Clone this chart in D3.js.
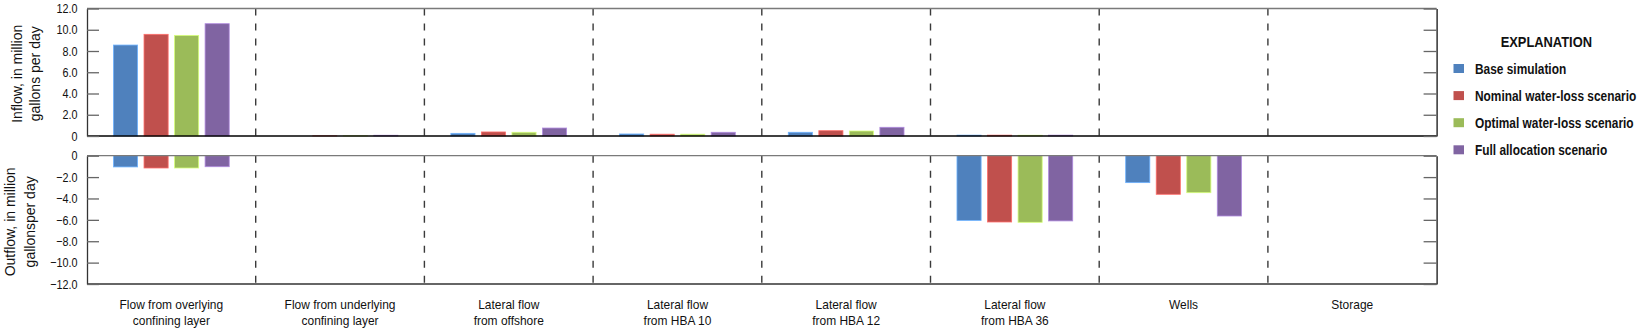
<!DOCTYPE html>
<html>
<head>
<meta charset="utf-8">
<script src="https://cdn.jsdelivr.net/npm/d3@7"></script>
<style>
  html, body { margin: 0; padding: 0; background: #fff; }
  svg { display: block; font-family: "Liberation Sans", Arial, "Helvetica", sans-serif; }
</style>
</head>
<body>
<svg id="chart" width="1640" height="329"></svg>
<script>
// Water-budget components (category labels, two lines each)
const categories = [
  ["Flow from overlying", "confining layer"],
  ["Flow from underlying", "confining layer"],
  ["Lateral flow", "from offshore"],
  ["Lateral flow", "from HBA 10"],
  ["Lateral flow", "from HBA 12"],
  ["Lateral flow", "from HBA 36"],
  ["Wells"],
  ["Storage"]
];

const seriesNames = [
  "Base simulation",
  "Nominal water-loss scenario",
  "Optimal water-loss scenario",
  "Full allocation scenario"
];
const seriesColors = ["#4F81BD", "#C0504D", "#9BBB59", "#8064A2"];

// Inflow, in million gallons per day
const inflowBase    = [8.56, 0.00, 0.25, 0.19, 0.35, 0.08, 0, 0];
const inflowNominal = [9.57, 0.02, 0.38, 0.17, 0.50, 0.08, 0, 0];
const inflowOptimal = [9.47, 0.02, 0.35, 0.17, 0.47, 0.07, 0, 0];
const inflowFull    = [10.57, 0.07, 0.75, 0.35, 0.82, 0.08, 0, 0];

// Outflow, in million gallons per day
const outflowBase    = [-1.05, 0, 0, 0, 0, -6.05, -2.52, 0];
const outflowNominal = [-1.15, 0, 0, 0, 0, -6.20, -3.61, 0];
const outflowOptimal = [-1.15, 0, 0, 0, 0, -6.23, -3.46, 0];
const outflowFull    = [-1.03, 0, 0, 0, 0, -6.10, -5.64, 0];

const inflowTicks  = [0, 2, 4, 6, 8, 10, 12];
const outflowTicks = [-12, -10, -8, -6, -4, -2, 0];

const inflowSeries  = [inflowBase, inflowNominal, inflowOptimal, inflowFull];
const outflowSeries = [outflowBase, outflowNominal, outflowOptimal, outflowFull];

// condensed lettering: Arial-metric face squeezed horizontally
const TICK_SX = 0.83, CAT_SX = 0.92, LEG_SX = 0.85, HEAD_SX = 0.86, TITLE_SX = 1.0;

const svg = d3.select("#chart");
const left = 87, right = 1436.6;
const topPanel = { y0: 8.5, y1: 136 };
const botPanel = { y0: 155.7, y1: 284 };

const x0 = d3.scaleBand().domain(d3.range(categories.length)).range([left, right]).paddingInner(0).paddingOuter(0);
const groupW = x0.bandwidth() * 0.686;
const x1 = d3.scaleBand().domain(d3.range(seriesNames.length)).range([0, groupW]).paddingInner(0.21).paddingOuter(0);
const groupOffset = (x0.bandwidth() - groupW) / 2;

const yIn  = d3.scaleLinear().domain([0, 12]).range([topPanel.y1, topPanel.y0]);
const yOut = d3.scaleLinear().domain([-12, 0]).range([botPanel.y1, botPanel.y0]);

const fmt = v => v === 0 ? "0" : (v < 0 ? "\u2212" + d3.format(".1f")(-v) : d3.format(".1f")(v));

function ntext(parent, x, y, str, size, sx, opts = {}) {
  const rot = opts.rotate ? ` rotate(${opts.rotate})` : "";
  return parent.append("text")
    .attr("transform", `translate(${x},${y})${rot} scale(${sx},1)`)
    .attr("text-anchor", opts.anchor || "start")
    .attr("font-size", size)
    .attr("font-weight", opts.bold ? "bold" : null)
    .attr("fill", "#111")
    .text(str);
}

function drawPanel(y, ticks, seriesData, panel, isTop) {
  const g = svg.append("g");

  // category dividers
  g.selectAll("line.div")
    .data(d3.range(1, categories.length))
    .join("line")
    .attr("x1", i => x0(i)).attr("x2", i => x0(i))
    .attr("y1", panel.y0).attr("y2", panel.y1)
    .attr("stroke", "#3a3a3a").attr("stroke-width", 1.4)
    .attr("stroke-dasharray", "7,8");

  // bars
  seriesData.forEach((vals, s) => {
    g.selectAll(null)
      .data(vals.map((v, i) => ({ v, i })).filter(d => d.v !== 0))
      .join("rect")
      .attr("x", d => x0(d.i) + groupOffset + x1(s))
      .attr("width", x1.bandwidth())
      .attr("y", d => Math.min(y(d.v), y(0)))
      .attr("height", d => Math.abs(y(d.v) - y(0)))
      .attr("fill", seriesColors[s])
      .attr("stroke", d3.color(seriesColors[s]).brighter(0.9))
      .attr("stroke-width", 0.8);
  });

  // frame
  g.append("line").attr("x1", left).attr("x2", right).attr("y1", panel.y0).attr("y2", panel.y0)
    .attr("stroke", "#7a7a7a").attr("stroke-width", 1.3);
  g.append("line").attr("x1", left).attr("x2", right).attr("y1", panel.y1).attr("y2", panel.y1)
    .attr("stroke", isTop ? "#000" : "#333").attr("stroke-width", 1.3);

  // left axis with inward ticks
  const la = g.append("g").attr("transform", `translate(${left},0)`)
    .call(d3.axisLeft(y).tickValues(ticks).tickFormat(fmt).tickSizeInner(-12).tickSizeOuter(0).tickPadding(9));
  la.attr("font-family", null).attr("font-size", null);
  la.select(".domain").attr("stroke", "#333").attr("stroke-width", 1.3);
  la.selectAll(".tick line").attr("stroke", "#666").attr("stroke-width", 1.3);
  la.selectAll(".tick text")
    .attr("font-size", 13).attr("fill", "#111")
    .attr("x", -9.5 / TICK_SX)
    .attr("transform", `scale(${TICK_SX},1)`);

  // right axis, ticks only
  const ra = g.append("g").attr("transform", `translate(${right},0)`)
    .call(d3.axisRight(y).tickValues(ticks).tickFormat("").tickSizeInner(-13).tickSizeOuter(0));
  ra.select(".domain").attr("stroke", "#111").attr("stroke-width", 1.3);
  ra.selectAll(".tick line").attr("stroke", "#666").attr("stroke-width", 1.3);
}

drawPanel(yIn, inflowTicks, inflowSeries, topPanel, true);
drawPanel(yOut, outflowTicks, outflowSeries, botPanel, false);

// y-axis titles
const titleIn = ["Inflow, in million", "gallons per day"];
const titleOut = ["Outflow, in million", "gallonsper day"];
const inMid = (topPanel.y0 + topPanel.y1) / 2 + 1.5;
const outMid = (botPanel.y0 + botPanel.y1) / 2 + 2;
[[titleIn, inMid, [21.5, 40]], [titleOut, outMid, [14.5, 35]]].forEach(([lines, mid, xs]) => {
  lines.forEach((t, k) => ntext(svg, xs[k], mid, t, 14, TITLE_SX, { anchor: "middle", rotate: -90 }));
});

// category labels
categories.forEach((lines, i) => {
  const cx = x0(i) + x0.bandwidth() / 2;
  lines.forEach((t, k) => ntext(svg, cx, 309 + k * 15.5, t, 13, CAT_SX, { anchor: "middle" }));
});

// legend
const lg = svg.append("g");
ntext(lg, 1546.3, 46.5, "EXPLANATION", 15, HEAD_SX, { anchor: "middle", bold: true });
seriesNames.forEach((name, s) => {
  const yy = 73.5 + s * 27.1;
  lg.append("rect").attr("x", 1453.5).attr("y", yy - 9.5).attr("width", 10.5).attr("height", 9)
    .attr("fill", seriesColors[s]);
  ntext(lg, 1475, yy, name, 14, LEG_SX, { bold: true });
});
</script>
</body>
</html>
